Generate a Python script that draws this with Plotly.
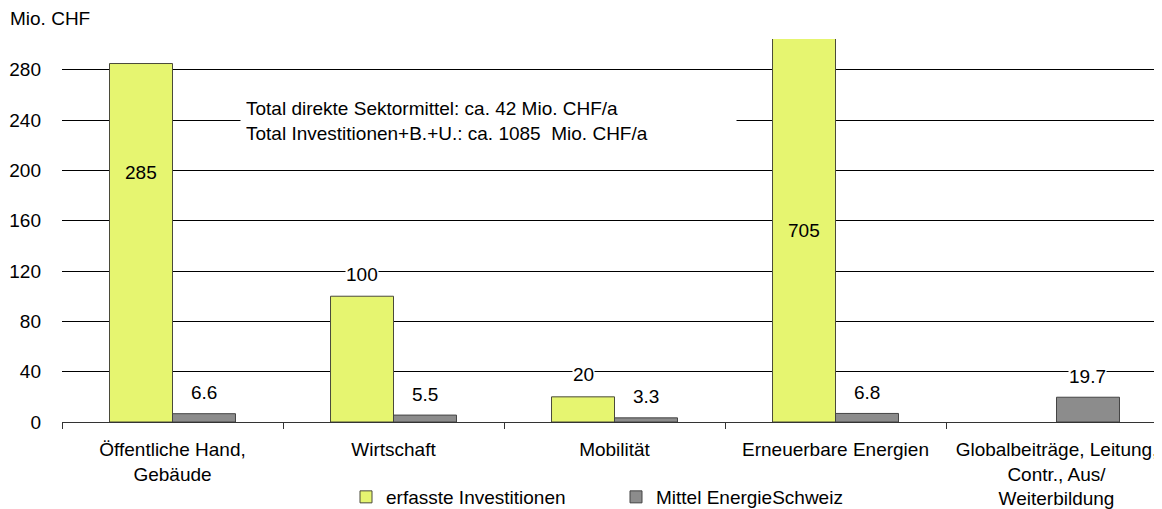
import plotly.graph_objects as go

categories = [
    "Öffentliche Hand,<br>Gebäude",
    "Wirtschaft",
    "Mobilität",
    "Erneuerbare Energien",
    "Globalbeiträge, Leitung,<br>Contr., Aus/<br>Weiterbildung",
]
investitionen = [285, 100, 20, 705, None]
mittel = [6.6, 5.5, 3.3, 6.8, 19.7]
inv_labels = ["285", "100", "20", "705", ""]
mit_labels = ["6.6", "5.5", "3.3", "6.8", "19.7"]
note = ("Total direkte Sektormittel: ca. 42 Mio. CHF/a<br>"
        "Total Investitionen+B.+U.: ca. 1085  Mio. CHF/a")

# page body has an 8px margin, so the figure is 8px smaller than the window
W, H = 1154, 501
ML, MT, MB = 54, 31, 87
YMAX = 304.5
cat_px = 221
plot_w = W - ML
plot_h = H - MT - MB
bar_px = cat_px * (1 - 0.43) / 2

FONT = "Liberation Sans, Arial, sans-serif"
FS = 19
yellow = "#E6F570"
grey = "#8C8C8C"

fig = go.Figure()
fig.add_trace(go.Bar(x=categories, y=investitionen, name="erfasste Investitionen",
                     marker=dict(color=yellow, line=dict(color="#4a4a3a", width=1))))
fig.add_trace(go.Bar(x=categories, y=mittel, name="Mittel EnergieSchweiz",
                     marker=dict(color=grey, line=dict(color="#444444", width=1))))

anns = []
for i, c in enumerate(categories):
    v = investitionen[i]
    if v is not None:
        if v > 200:
            # labels placed inside the tall bars
            ly = 198 if v < YMAX else YMAX / 2
            anns.append(dict(x=c, y=ly, text=inv_labels[i], showarrow=False,
                             xshift=-bar_px / 2))
        else:
            anns.append(dict(x=c, y=v, text=inv_labels[i], showarrow=False,
                             xshift=-bar_px / 2, yshift=22, bgcolor="white",
                             borderpad=0))
    anns.append(dict(x=c, y=mittel[i], text=mit_labels[i], showarrow=False,
                     xshift=bar_px / 2, yshift=21, bgcolor="white", borderpad=0))

anns.append(dict(xref="paper", yref="paper", x=(232 - ML) / plot_w,
                 y=(H - MB - 113) / plot_h, xanchor="left", yanchor="middle",
                 text=note, align="left", showarrow=False, bgcolor="white",
                 width=485, borderpad=5))
anns.append(dict(xref="paper", yref="paper", x=-ML / plot_w, y=1,
                 yshift=MT - 10, xanchor="left", yanchor="middle",
                 text="Mio. CHF", showarrow=False))

fig.update_layout(
    width=W, height=H,
    margin=dict(l=ML, r=0, t=MT, b=MB),
    paper_bgcolor="white", plot_bgcolor="white",
    font=dict(family=FONT, size=FS, color="black"),
    barmode="group", bargap=0.43, bargroupgap=0,
    annotations=anns,
    showlegend=True,
    legend=dict(orientation="h", xref="container", yref="container",
                x=338 / W, xanchor="left", y=(H - 489) / H, yanchor="middle",
                entrywidth=225, font=dict(size=FS)),
    xaxis=dict(range=[-0.5, -0.5 + plot_w / cat_px], showline=True,
               linecolor="#333333", linewidth=1, ticks="outside",
               tickson="boundaries", ticklen=6, tickcolor="#333333",
               showgrid=False, automargin=False, ticklabelstandoff=10),
    yaxis=dict(range=[0, YMAX], tickvals=list(range(0, 281, 40)),
               showgrid=True, gridcolor="black", gridwidth=1,
               zeroline=False, ticklabelstandoff=20, automargin=False),
)

fig.write_html("out.html")
